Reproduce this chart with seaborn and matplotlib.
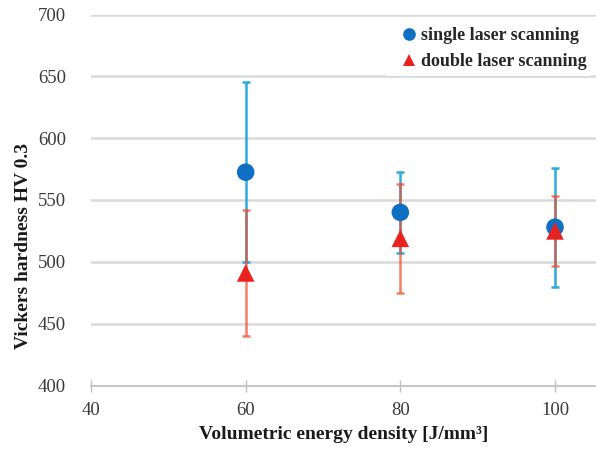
import matplotlib
matplotlib.use("Agg")
import matplotlib.pyplot as plt
import seaborn as sns
import pandas as pd

energy = [60, 80, 100]
single_mean = [572.5, 540, 528]
single_err = [73, 33, 48]
double_mean = [491, 519, 525]
double_err = [51, 44, 28.5]
series_names = ["single laser scanning", "double laser scanning"]

sns.set_theme(style="white")
plt.rcParams['font.family'] = ['Liberation Serif', 'DejaVu Serif']

df = pd.DataFrame({
    "x": energy + energy,
    "y": single_mean + double_mean,
    "series": [series_names[0]] * 3 + [series_names[1]] * 3,
})

fig = plt.figure(figsize=(5.96, 4.5), dpi=100)
ax = fig.add_axes([91 / 596, (450 - 385.5) / 450, (596 - 91) / 596, (385.5 - 14.5) / 450])

ax.errorbar(energy, single_mean, yerr=single_err, fmt='none', ecolor='#29abe2',
            elinewidth=1.8, capsize=3, capthick=1.8, zorder=2)
ax.errorbar(energy, double_mean, yerr=double_err, fmt='none', ecolor='#f04e2a',
            elinewidth=1.8, capsize=3, capthick=1.8, alpha=0.72, zorder=3)

sns.scatterplot(data=df, x="x", y="y", hue="series", style="series",
                markers={series_names[0]: 'o', series_names[1]: '^'},
                palette={series_names[0]: '#0f6fc2', series_names[1]: '#e8231f'},
                s=160, edgecolor='none', linewidth=0, ax=ax, zorder=4)

ax.set_xlim(40, 105.3)
ax.set_ylim(400, 700)
ax.set_xticks([40, 60, 80, 100])
ax.set_yticks([400, 450, 500, 550, 600, 650, 700])

ax.yaxis.grid(True, color='#d9d9d9', linewidth=1.8)
ax.xaxis.grid(False)
ax.set_axisbelow(True)
for s in ['left', 'right', 'top']:
    ax.spines[s].set_visible(False)
ax.spines['bottom'].set_color('#bfbfbf')
ax.spines['bottom'].set_linewidth(1.2)

ax.tick_params(axis='y', length=0, pad=18, labelsize=13.5, labelcolor='#3a3a3a')
ax.tick_params(axis='x', direction='inout', length=8, width=1, color='#bfbfbf',
               pad=8, labelsize=13.5, labelcolor='#3a3a3a', bottom=True)

ax.set_xlabel("Volumetric energy density [J/mm³]", fontsize=14, fontweight='bold',
              color='#1a1a1a', labelpad=5)
ax.set_ylabel("Vickers hardness HV 0.3", fontsize=14, fontweight='bold',
              color='#1a1a1a')
ax.yaxis.set_label_coords(-0.116, 0.376)

leg = ax.legend(loc='upper right', bbox_to_anchor=(1.0, 0.99), frameon=True,
                prop={'family': 'Liberation Serif', 'weight': 'bold', 'size': 13},
                handletextpad=-0.3, borderpad=0.3, labelspacing=0.5,
                markerscale=0.72, borderaxespad=0.2)
leg.get_frame().set_facecolor('white')
leg.get_frame().set_edgecolor('none')
leg.get_frame().set_alpha(1)
for t in leg.get_texts():
    t.set_color('#262626')

fig.savefig("out.png", dpi=100)
